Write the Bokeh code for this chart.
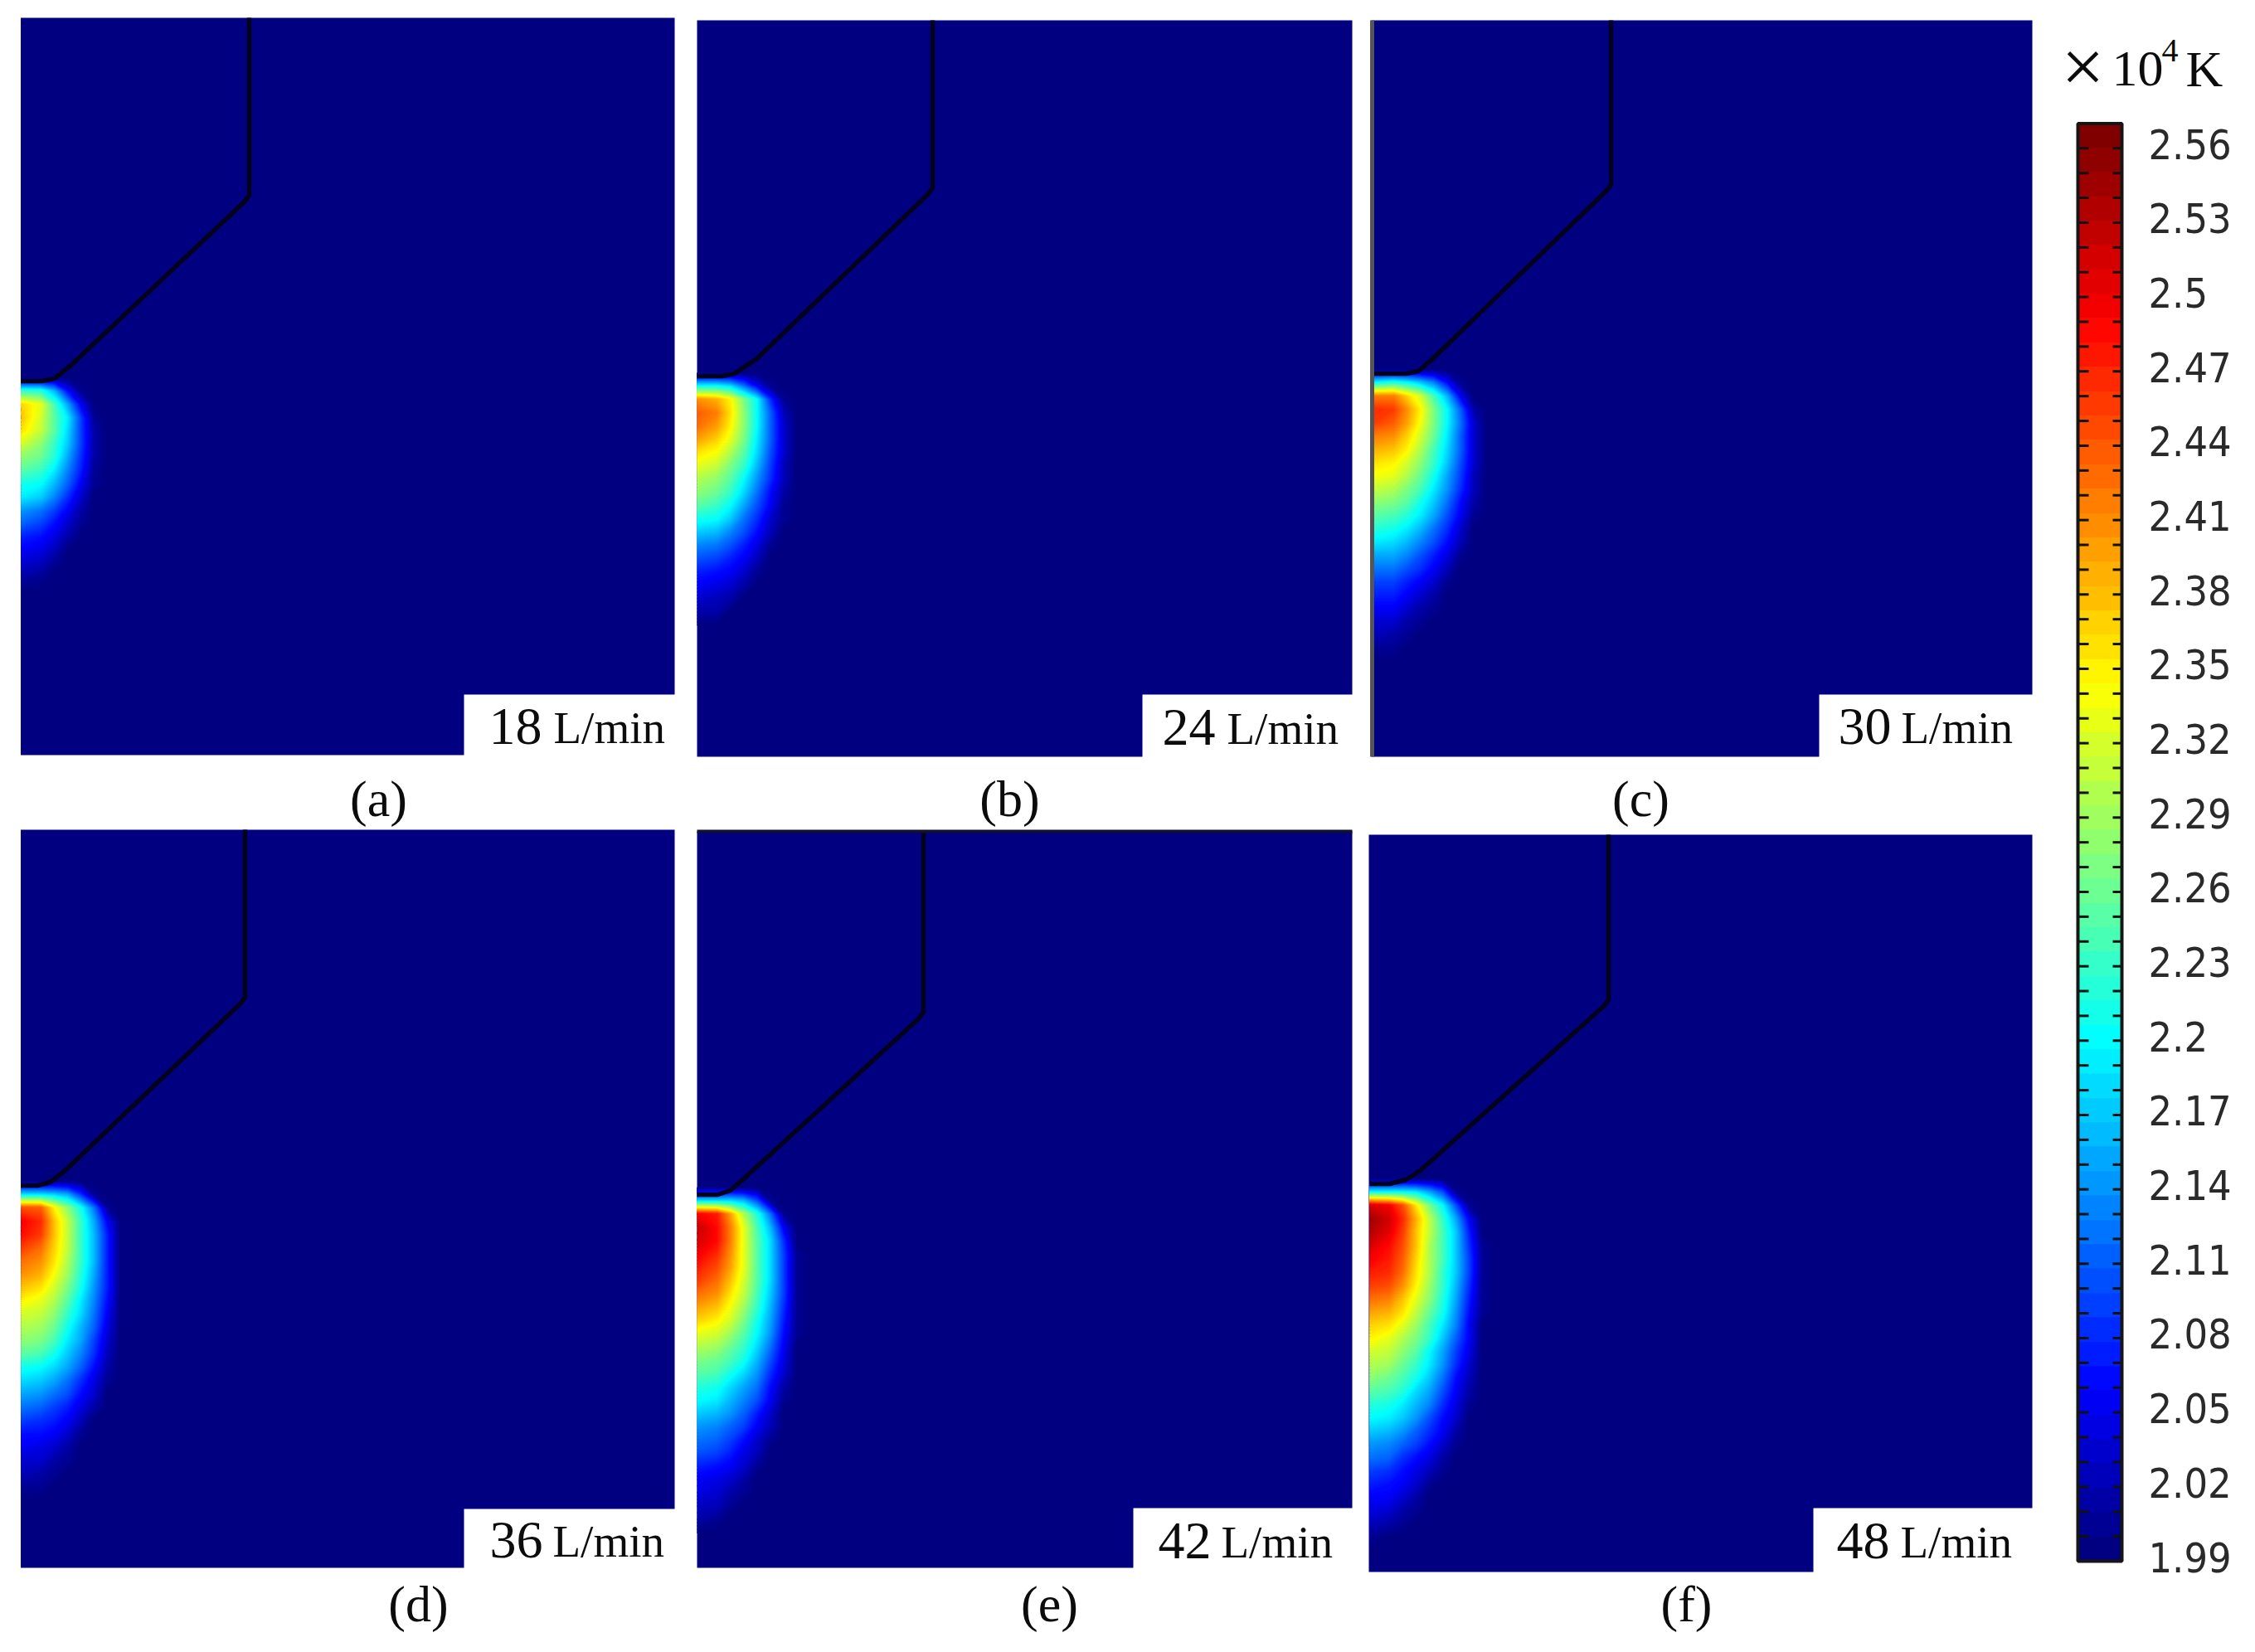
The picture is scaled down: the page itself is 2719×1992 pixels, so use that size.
import numpy as np
from bokeh.core.properties import value
from bokeh.embed import file_html
from bokeh.models import LinearColorMapper, Range1d
from bokeh.plotting import figure
from bokeh.resources import INLINE

T_MIN = 1.99
T_MAX = 2.57

# temperatures, x10^4 K, 16 px cells, top row first
# short rows: everything further right is at T_MIN
FIELD_A = [
    [1.99],
    [2.23, 2.22, 2.16, 2.06, 2.00],
    [2.37, 2.33, 2.24, 2.15, 2.05],
    [2.38, 2.32, 2.25, 2.19, 2.09, 2.00],
    [2.36, 2.31, 2.25, 2.18, 2.09, 2.01],
    [2.32, 2.28, 2.23, 2.17, 2.09, 2.01],
    [2.28, 2.26, 2.22, 2.15, 2.08, 2.01],
    [2.25, 2.23, 2.19, 2.13, 2.07, 2.00],
    [2.21, 2.20, 2.16, 2.11, 2.05, 2.00],
    [2.19, 2.17, 2.13, 2.08, 2.03],
    [2.14, 2.12, 2.09, 2.05, 2.01],
    [2.11, 2.09, 2.06, 2.03, 2.00],
    [2.07, 2.06, 2.04, 2.01],
    [2.05, 2.04, 2.02],
    [2.03, 2.02, 2.00],
    [2.01, 2.00],
    [1.99],
]
FIELD_B = [
    [1.99],
    [2.20, 2.20, 2.18, 2.12, 2.05, 2.00],
    [2.41, 2.39, 2.35, 2.27, 2.20, 2.08, 2.00],
    [2.44, 2.42, 2.36, 2.28, 2.20, 2.11, 2.02],
    [2.43, 2.40, 2.35, 2.28, 2.20, 2.11, 2.03],
    [2.40, 2.37, 2.33, 2.27, 2.19, 2.11, 2.03],
    [2.36, 2.34, 2.30, 2.25, 2.18, 2.10, 2.03],
    [2.33, 2.31, 2.27, 2.23, 2.16, 2.09, 2.02],
    [2.30, 2.28, 2.25, 2.20, 2.14, 2.08, 2.02],
    [2.28, 2.26, 2.23, 2.18, 2.12, 2.06, 2.01],
    [2.25, 2.23, 2.20, 2.15, 2.10, 2.05, 2.00],
    [2.21, 2.20, 2.17, 2.12, 2.08, 2.03, 2.00],
    [2.17, 2.16, 2.13, 2.10, 2.06, 2.02],
    [2.13, 2.12, 2.10, 2.07, 2.04, 2.00],
    [2.10, 2.09, 2.07, 2.05, 2.02],
    [2.07, 2.06, 2.05, 2.03, 2.00],
    [2.05, 2.04, 2.03, 2.01],
    [2.03, 2.02, 2.01],
    [2.01, 2.01],
    [1.99],
]
FIELD_C = [
    [1.99],
    [2.20, 2.22, 2.20, 2.17, 2.13, 2.06, 2.00],
    [2.42, 2.42, 2.37, 2.32, 2.24, 2.16, 2.05],
    [2.47, 2.46, 2.41, 2.35, 2.27, 2.20, 2.11, 2.01],
    [2.46, 2.44, 2.40, 2.34, 2.27, 2.20, 2.12, 2.03],
    [2.42, 2.41, 2.37, 2.32, 2.26, 2.19, 2.11, 2.03],
    [2.39, 2.38, 2.35, 2.30, 2.24, 2.18, 2.11, 2.03],
    [2.36, 2.35, 2.32, 2.28, 2.23, 2.17, 2.10, 2.03],
    [2.34, 2.33, 2.30, 2.26, 2.21, 2.15, 2.09, 2.02],
    [2.31, 2.30, 2.27, 2.24, 2.19, 2.14, 2.08, 2.02],
    [2.28, 2.27, 2.25, 2.21, 2.17, 2.12, 2.06, 2.01],
    [2.25, 2.24, 2.22, 2.19, 2.15, 2.10, 2.05, 2.00],
    [2.22, 2.21, 2.19, 2.16, 2.12, 2.08, 2.03],
    [2.19, 2.18, 2.16, 2.13, 2.10, 2.06, 2.02],
    [2.15, 2.15, 2.13, 2.10, 2.07, 2.04, 2.00],
    [2.12, 2.12, 2.10, 2.08, 2.05, 2.02],
    [2.09, 2.09, 2.07, 2.05, 2.03, 2.00],
    [2.07, 2.07, 2.05, 2.03, 2.01],
    [2.05, 2.05, 2.03, 2.01, 2.00],
    [2.03, 2.03, 2.01, 2.00],
    [2.02, 2.01, 2.00],
    [2.00, 2.00],
    [1.99],
]
FIELD_D = [
    [1.99],
    [2.18, 2.18, 2.17, 2.15, 2.08, 2.00],
    [2.45, 2.44, 2.35, 2.28, 2.21, 2.12, 2.00],
    [2.50, 2.47, 2.38, 2.31, 2.23, 2.15, 2.05],
    [2.49, 2.46, 2.38, 2.31, 2.23, 2.16, 2.07],
    [2.46, 2.43, 2.37, 2.31, 2.23, 2.16, 2.07],
    [2.43, 2.41, 2.36, 2.30, 2.23, 2.16, 2.07],
    [2.41, 2.39, 2.34, 2.29, 2.22, 2.15, 2.07],
    [2.38, 2.36, 2.32, 2.27, 2.21, 2.14, 2.07],
    [2.35, 2.33, 2.30, 2.25, 2.19, 2.13, 2.06],
    [2.32, 2.31, 2.28, 2.23, 2.18, 2.12, 2.05],
    [2.30, 2.29, 2.26, 2.21, 2.16, 2.11, 2.04],
    [2.28, 2.27, 2.24, 2.19, 2.15, 2.09, 2.03],
    [2.25, 2.24, 2.21, 2.17, 2.13, 2.08, 2.02],
    [2.21, 2.20, 2.18, 2.15, 2.11, 2.06, 2.01],
    [2.18, 2.17, 2.15, 2.12, 2.08, 2.04, 2.00],
    [2.15, 2.14, 2.12, 2.10, 2.06, 2.03],
    [2.12, 2.11, 2.09, 2.07, 2.04, 2.01],
    [2.09, 2.08, 2.07, 2.05, 2.02],
    [2.06, 2.06, 2.05, 2.03, 2.00],
    [2.05, 2.04, 2.03, 2.01],
    [2.03, 2.03, 2.01, 2.00],
    [2.02, 2.01, 2.00],
    [2.00, 2.00],
    [1.99],
]
FIELD_E = [
    [1.99],
    [2.18, 2.18, 2.18, 2.16, 2.10, 2.00],
    [2.50, 2.48, 2.40, 2.30, 2.22, 2.12, 2.00],
    [2.53, 2.49, 2.42, 2.33, 2.24, 2.16, 2.05],
    [2.52, 2.49, 2.42, 2.33, 2.25, 2.18, 2.08],
    [2.50, 2.47, 2.41, 2.33, 2.25, 2.18, 2.09, 2.00],
    [2.48, 2.45, 2.40, 2.33, 2.25, 2.18, 2.09, 2.00],
    [2.46, 2.43, 2.38, 2.32, 2.25, 2.18, 2.09, 2.00],
    [2.43, 2.41, 2.36, 2.31, 2.24, 2.17, 2.09, 2.00],
    [2.40, 2.38, 2.34, 2.29, 2.23, 2.16, 2.08, 2.00],
    [2.37, 2.35, 2.32, 2.27, 2.21, 2.15, 2.07, 2.00],
    [2.33, 2.32, 2.29, 2.25, 2.20, 2.14, 2.06, 2.00],
    [2.30, 2.29, 2.26, 2.23, 2.18, 2.12, 2.05],
    [2.27, 2.26, 2.24, 2.21, 2.16, 2.10, 2.04],
    [2.25, 2.24, 2.21, 2.18, 2.14, 2.08, 2.03],
    [2.22, 2.21, 2.18, 2.15, 2.12, 2.06, 2.01],
    [2.20, 2.19, 2.16, 2.13, 2.10, 2.05, 2.00],
    [2.17, 2.16, 2.14, 2.11, 2.07, 2.03],
    [2.14, 2.13, 2.11, 2.09, 2.05, 2.02],
    [2.12, 2.11, 2.09, 2.06, 2.03, 2.00],
    [2.10, 2.09, 2.07, 2.04, 2.02],
    [2.07, 2.06, 2.05, 2.03, 2.00],
    [2.05, 2.04, 2.03, 2.01],
    [2.04, 2.03, 2.01, 2.00],
    [2.02, 2.02, 2.00],
    [2.01, 2.00],
    [1.99],
]
FIELD_F = [
    [1.99],
    [2.20, 2.20, 2.20, 2.19, 2.15, 2.10, 2.00],
    [2.52, 2.50, 2.45, 2.36, 2.27, 2.20, 2.10, 2.00],
    [2.55, 2.52, 2.47, 2.39, 2.31, 2.23, 2.15, 2.05],
    [2.54, 2.51, 2.46, 2.38, 2.31, 2.24, 2.17, 2.07],
    [2.52, 2.49, 2.45, 2.38, 2.30, 2.24, 2.17, 2.08, 2.00],
    [2.50, 2.48, 2.44, 2.37, 2.30, 2.24, 2.17, 2.09, 2.00],
    [2.48, 2.47, 2.43, 2.36, 2.30, 2.23, 2.17, 2.09, 2.00],
    [2.46, 2.45, 2.41, 2.35, 2.29, 2.23, 2.16, 2.08, 2.00],
    [2.43, 2.42, 2.38, 2.33, 2.28, 2.22, 2.15, 2.07, 2.00],
    [2.40, 2.39, 2.36, 2.31, 2.26, 2.21, 2.14, 2.06, 2.00],
    [2.37, 2.36, 2.33, 2.29, 2.24, 2.19, 2.13, 2.05],
    [2.35, 2.33, 2.30, 2.27, 2.23, 2.17, 2.11, 2.05],
    [2.32, 2.31, 2.28, 2.25, 2.20, 2.15, 2.09, 2.04],
    [2.30, 2.29, 2.26, 2.23, 2.19, 2.14, 2.08, 2.03],
    [2.28, 2.26, 2.24, 2.21, 2.17, 2.12, 2.06, 2.02],
    [2.25, 2.24, 2.22, 2.18, 2.15, 2.10, 2.05, 2.01],
    [2.22, 2.21, 2.19, 2.16, 2.13, 2.08, 2.04, 2.00],
    [2.20, 2.19, 2.17, 2.14, 2.10, 2.06, 2.03],
    [2.17, 2.16, 2.14, 2.11, 2.08, 2.05, 2.01],
    [2.14, 2.13, 2.11, 2.09, 2.06, 2.03, 2.00],
    [2.12, 2.11, 2.08, 2.06, 2.04, 2.01],
    [2.09, 2.08, 2.06, 2.04, 2.02, 2.00],
    [2.07, 2.06, 2.05, 2.03, 2.00],
    [2.05, 2.05, 2.03, 2.01],
    [2.04, 2.03, 2.01, 2.00],
    [2.02, 2.01, 2.00],
    [2.00],
    [1.99],
]
FIELDS = [FIELD_A, FIELD_B, FIELD_C, FIELD_D, FIELD_E, FIELD_F]

# layout in page pixels: y grows downward
PANEL_LEFT = [24.5, 840, 1653, 24.5, 840, 1650]
PANEL_RIGHT = [813, 1630, 2450, 813, 1630, 2450]
PANEL_TOP = [21, 24, 24, 1000, 1002, 1006]
PANEL_BOTTOM = [910, 912, 912, 1890, 1890, 1895]
BOX_LEFT = [559, 1377, 2193, 559, 1366, 2186]
BOX_TOP = [837, 837, 837, 1819, 1818, 1818]
FIELD_LEFT = [24.7, 840, 1656, 24.7, 840, 1650.7]
FIELD_TOP = [447.3, 441.3, 437.3, 1416, 1423.7, 1413.3]
CELL = 16

EDGE_X = [
    [24.5, 50, 65, 85, 294, 300, 300],
    [840, 870, 885, 912, 1118, 1124, 1124],
    [1656, 1695, 1710, 1725, 1936, 1942, 1942],
    [24.5, 45, 60, 78, 289, 295, 295],
    [840, 865, 880, 895, 1107, 1113, 1113],
    [1651, 1675, 1695, 1712, 1933, 1939, 1939],
]
EDGE_Y = [
    [459, 459, 456, 440, 243, 235, 21],
    [453, 453, 450, 432, 234, 226, 24],
    [450, 450, 447, 434, 230, 222, 24],
    [1429, 1429, 1425, 1411, 1210, 1202, 1000],
    [1440, 1440, 1435, 1422, 1228, 1220, 1002],
    [1427, 1427, 1422, 1411, 1213, 1205, 1006],
]

PANEL_NAMES = ["(a)", "(b)", "(c)", "(d)", "(e)", "(f)"]
NAME_X = [456, 1217, 1978, 504, 1265, 2033]
NAME_Y = [982, 982, 982, 1953, 1953, 1953]

FLOW = ["18", "24", "30", "36", "42", "48"]
FLOW_X = [589, 1401, 2216, 590, 1396, 2214]
UNIT_X = [667, 1479, 2292, 666, 1472, 2291]
FLOW_Y = [895, 896, 895, 1876, 1877, 1877]

BAR_LABELS = ["2.56", "2.53", "2.5", "2.47", "2.44", "2.41", "2.38", "2.35", "2.32", "2.29",
              "2.26", "2.23", "2.2", "2.17", "2.14", "2.11", "2.08", "2.05", "2.02", "1.99"]

# jet, as the colour bar shows it
JET_AT = [0.0, 0.11, 0.36, 0.61, 0.87, 1.0]
JET_R = [0, 0, 0, 255, 255, 128]
JET_G = [0, 0, 255, 255, 0, 0]
JET_B = [128, 255, 255, 0, 0, 0]


def jet(t):
    s = (t - T_MIN) / (T_MAX - T_MIN)
    return "#%02x%02x%02x" % (int(np.interp(s, JET_AT, JET_R)), int(np.interp(s, JET_AT, JET_G)), int(np.interp(s, JET_AT, JET_B)))


mapper = LinearColorMapper(palette=[jet(t) for t in np.linspace(T_MIN, T_MAX, 256)], low=T_MIN, high=T_MAX)

levels = np.arange(T_MIN, T_MAX + 0.0025, 0.005)
band_colors = [jet(t + 0.0025) for t in levels[:-1]]
line_colors = [jet(t) for t in levels]

NAVY = "#000080"

p = figure(width=2719, height=1992, x_range=Range1d(0, 2719), y_range=Range1d(1992, 0),
           output_backend="svg", toolbar_location=None, min_border=0, outline_line_color=None)
p.axis.visible = False
p.grid.visible = False


def serif(x, y, text, size, **kw):
    # the svg text lands about a third of the size below the baseline asked for
    p.text(x, y, text=text, text_font=value("Liberation Serif"), text_font_size="%dpx" % size,
           text_color="#0c0c0c", text_baseline="alphabetic", y_offset=-round(0.32 * size), **kw)


# colour bar has its own temperature scale: 1.99 at y=1882, 2989 px per unit
p.extra_y_ranges["T"] = Range1d(T_MIN - (1992 - 1882) / 2989, T_MIN + 1882 / 2989)

p.quad(left=PANEL_LEFT, right=PANEL_RIGHT, top=PANEL_TOP, bottom=PANEL_BOTTOM,
       fill_color=NAVY, line_color=None)

for i, rows in enumerate(FIELDS):
    # one more column at T_MIN so every band closes on the right
    ncols = max(len(r) for r in rows) + 1
    grid = np.full((len(rows), ncols), T_MIN)
    for j, r in enumerate(rows):
        grid[j, :len(r)] = r
    xs = FIELD_LEFT[i] + CELL * (np.arange(ncols) + 0.5)
    xs[0] = FIELD_LEFT[i]  # first column reaches the panel edge
    ys = FIELD_TOP[i] + CELL * (np.arange(len(rows)) + 0.5)
    p.contour(xs, ys, grid, levels, fill_color=band_colors, line_color=line_colors, line_width=1.5)

p.multi_line(EDGE_X, EDGE_Y, line_color="#02021e", line_width=5.5, line_join="round")
# stray dark rules on panels (c) and (e)
p.line([1654, 1654], [24, 912], line_color="#555555", line_width=5)
p.line([840, 1630], [1002, 1002], line_color="#101030", line_width=4)

# white corner boxes, a pixel past the panel so no navy shows round them
p.quad(left=BOX_LEFT, right=[r + 1 for r in PANEL_RIGHT], top=BOX_TOP, bottom=[b + 1 for b in PANEL_BOTTOM],
       fill_color="white", line_color=None)

serif(NAME_X, NAME_Y, PANEL_NAMES, 62, text_align="center")
serif(FLOW_X, FLOW_Y, FLOW, 64)
serif(UNIT_X, FLOW_Y, ["L/min"] * 6, 55)

# header of the colour bar
serif([2485], [108], ["×"], 92)
serif([2546], [102], ["10"], 62)
serif([2606], [73], ["4"], 40)
serif([2635], [102], ["K"], 62)

bar_values = np.arange(T_MIN, T_MAX + 0.005, 0.01)
p.image(image=[bar_values.reshape(-1, 1)], x=[2505], y=[T_MIN], dw=[53], dh=[T_MAX - T_MIN],
        color_mapper=mapper, y_range_name="T")
ticks = bar_values[1:-1]
p.segment(x0=[2505] * len(ticks), x1=[2518] * len(ticks), y0=ticks, y1=ticks, line_color="#111111",
          line_width=3, y_range_name="T")
p.segment(x0=[2547] * len(ticks), x1=[2558] * len(ticks), y0=ticks, y1=ticks, line_color="#111111",
          line_width=3, y_range_name="T")
p.quad(left=[2505], right=[2558], bottom=[T_MIN], top=[T_MAX], fill_color=None, line_color="#151515",
       line_width=4, y_range_name="T")
p.text([2590] * len(BAR_LABELS), [float(s) for s in BAR_LABELS], text=BAR_LABELS,
       text_font=value("DejaVu Sans Condensed"), text_font_size="50px", text_color="#2a2a2a",
       text_baseline="middle", y_offset=-5, y_range_name="T")

open("out.html", "w").write(file_html(p, INLINE))
